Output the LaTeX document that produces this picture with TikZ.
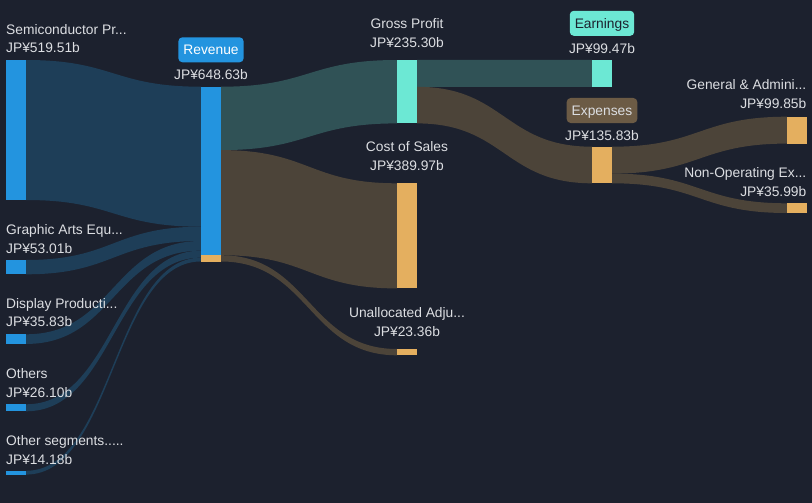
\documentclass[tikz,border=0pt]{standalone}
\usepackage{fontspec}
\setmainfont{Liberation Sans}
\usetikzlibrary{calc}
\definecolor{bg}{RGB}{28,33,46}
\definecolor{barblue}{RGB}{35,148,223}
\definecolor{linkblue}{RGB}{30,62,88}
\definecolor{linkteal}{RGB}{48,82,86}
\definecolor{linkbrown}{RGB}{76,68,57}
\definecolor{aqua}{RGB}{108,232,212}
\definecolor{orange}{RGB}{228,175,95}
\definecolor{expbox}{RGB}{108,91,69}
\definecolor{txt}{RGB}{220,222,226}
\pgfdeclarelayer{bands}
\pgfsetlayers{bands,main}
\tikzset{
  bar/.style={rectangle, inner sep=0pt, outer sep=0pt, minimum width=20pt, anchor=north west, draw=none},
  lbl/.style={text=txt, font=\fontsize{13.8}{16}\selectfont, inner sep=0pt},
  tag/.style={rectangle, rounded corners=4pt, inner xsep=5pt, inner ysep=0pt, minimum height=25pt,
              text height=9.9pt, text depth=0pt, font=\fontsize{13.8}{16}\selectfont},
}
\newcommand\band[6]{%
  \fill[#6] let \p1=($(#1.north east)+(0pt,-#2pt)$), \p2=($(#3.north west)+(0pt,-#4pt)$), \n1={0.5*(\x1+\x2)} in
  (\p1) .. controls (\n1,\y1) and (\n1,\y2) .. (\p2) -- (\x2,{\y2-#5pt})
  .. controls (\n1,{\y2-#5pt}) and (\n1,{\y1-#5pt}) .. (\x1,{\y1-#5pt}) -- cycle;}
\begin{document}
\begin{tikzpicture}[x=1pt,y=-1pt]
\useasboundingbox (0,0) rectangle (812,503);
% bars
\node[bar, fill=barblue, minimum height=140pt] (semi) at (6,60) {};
\node[bar, fill=barblue, minimum height=14.3pt] (graph) at (6,260) {};
\node[bar, fill=barblue, minimum height=9.65pt] (disp) at (6,334.3) {};
\node[bar, fill=barblue, minimum height=7pt] (oth) at (6,404.3) {};
\node[bar, fill=barblue, minimum height=3.8pt] (othseg) at (6,470.8) {};
\node[bar, fill=barblue, minimum height=168.5pt] (rev) at (201,86.7) {};
\node[bar, fill=orange, minimum height=6.3pt] (revadj) at (rev.south west) {};
\node[bar, fill=aqua, minimum height=63.4pt] (gp) at (397,60) {};
\node[bar, fill=orange, minimum height=105.1pt] (cos) at (397,183.3) {};
\node[bar, fill=orange, minimum height=6.3pt] (unal) at (397,349) {};
\node[bar, fill=aqua, minimum height=26.8pt] (earn) at (592,60) {};
\node[bar, fill=orange, minimum height=36.6pt] (exp) at (592,146.7) {};
\node[bar, fill=orange, minimum height=26.9pt] (ga) at (787,116.7) {};
\node[bar, fill=orange, minimum height=9.7pt] (nonop) at (787,203.3) {};
% bands
\begin{pgfonlayer}{bands}
\fill[bg] (0,0) rectangle (812,503);
\band{semi}{0}{rev}{0}{140}{linkblue}
\band{graph}{0}{rev}{140}{14.3}{linkblue}
\band{disp}{0}{rev}{154.3}{9.65}{linkblue}
\band{oth}{0}{rev}{163.95}{7}{linkblue}
\band{othseg}{0}{rev}{170.95}{3.8}{linkblue}
\band{rev}{0}{gp}{0}{63.4}{linkteal}
\band{rev}{63.4}{cos}{0}{105.1}{linkbrown}
\band{revadj}{0}{unal}{0}{6.3}{linkbrown}
\band{gp}{0}{earn}{0}{26.8}{linkteal}
\band{gp}{26.8}{exp}{0}{36.6}{linkbrown}
\band{exp}{0}{ga}{0}{26.9}{linkbrown}
\band{exp}{26.9}{nonop}{0}{9.7}{linkbrown}
\end{pgfonlayer}
% labels
\node[lbl, anchor=base west] (semiN) at (6,34.5) {Semiconductor Pr...};
\node[lbl, anchor=base west] (semiV) at (6,53) {JP¥519.51b};
\node[lbl, anchor=base west] (graphN) at (6,234) {Graphic Arts Equ...};
\node[lbl, anchor=base west] (graphV) at (6,253) {JP¥53.01b};
\node[lbl, anchor=base west] (dispN) at (6,308.3) {Display Producti...};
\node[lbl, anchor=base west] (dispV) at (6,326.7) {JP¥35.83b};
\node[lbl, anchor=base west] (othN) at (6,378.3) {Others};
\node[lbl, anchor=base west] (othV) at (6,397.3) {JP¥26.10b};
\node[lbl, anchor=base west] (othsegN) at (6,445.7) {Other segments.....};
\node[lbl, anchor=base west] (othsegV) at (6,464.3) {JP¥14.18b};
\node[tag, fill=barblue, text=white] (revT) at (211,49.8) {Revenue};
\node[lbl, anchor=base] (revV) at (211,80) {JP¥648.63b};
\node[lbl, anchor=base] (gpN) at (407,28.3) {Gross Profit};
\node[lbl, anchor=base] (gpV) at (407,47.7) {JP¥235.30b};
\node[lbl, anchor=base] (cosN) at (407,151) {Cost of Sales};
\node[lbl, anchor=base] (cosV) at (407,170) {JP¥389.97b};
\node[lbl, anchor=base] (unalN) at (407,317.3) {Unallocated Adju...};
\node[lbl, anchor=base] (unalV) at (407,336.7) {JP¥23.36b};
\node[tag, fill=aqua, text=bg] (earnT) at (602,23.3) {Earnings};
\node[lbl, anchor=base] (earnV) at (602,53.3) {JP¥99.47b};
\node[tag, fill=expbox, text=txt] (expT) at (602,110.5) {Expenses};
\node[lbl, anchor=base] (expV) at (602,140) {JP¥135.83b};
\node[lbl, anchor=base east] (gaN) at (806.5,90) {General \& Admini...};
\node[lbl, anchor=base east] (gaV) at (806.5,109) {JP¥99.85b};
\node[lbl, anchor=base east] (nonopN) at (806.5,177.3) {Non-Operating Ex...};
\node[lbl, anchor=base east] (nonopV) at (806.5,196.7) {JP¥35.99b};
\end{tikzpicture}
\end{document}
